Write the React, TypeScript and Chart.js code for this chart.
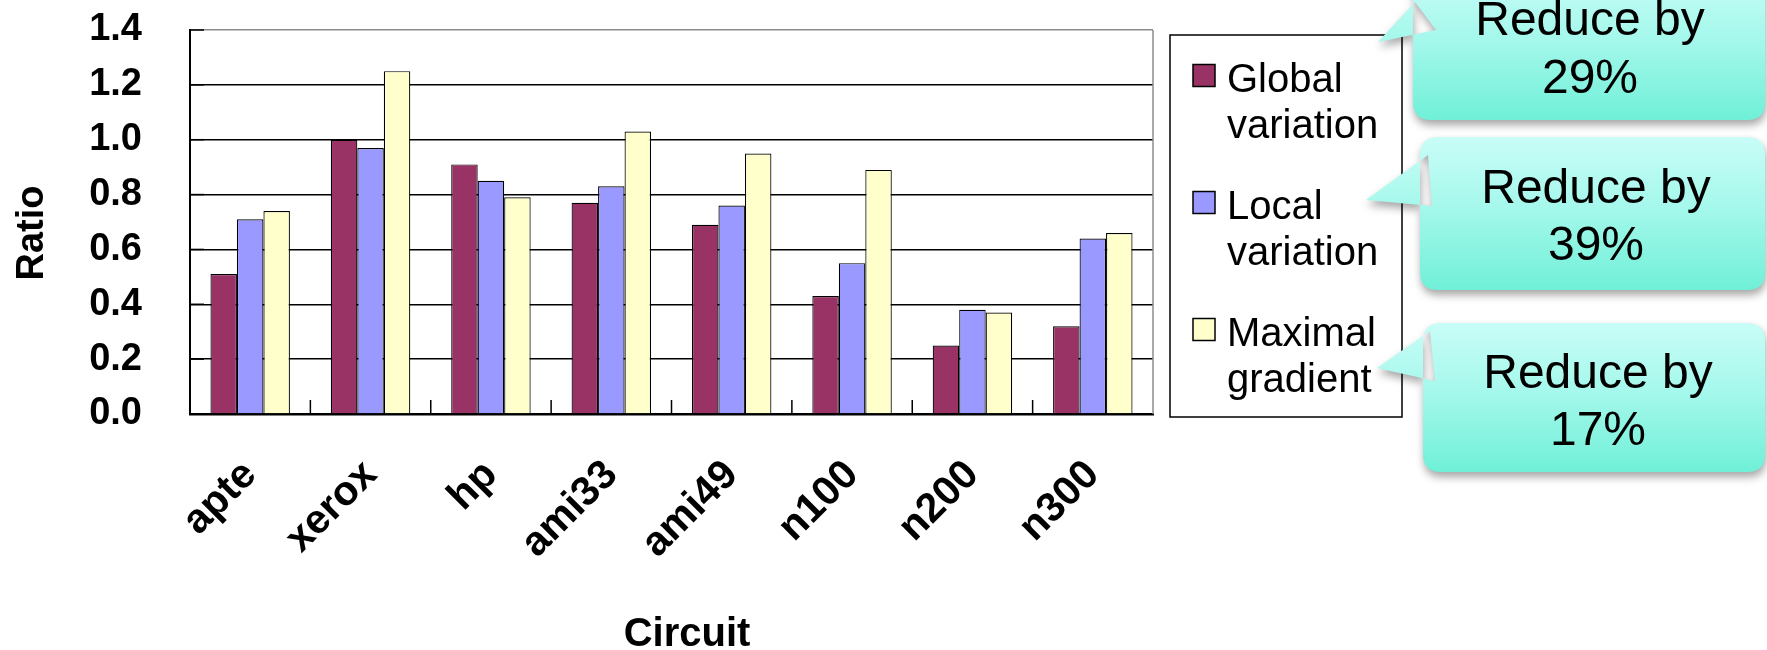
import React, { useEffect, useRef } from "react";
import { Chart, registerables } from "chart.js";

Chart.register(...registerables);

const categories = ["apte", "xerox", "hp", "ami33", "ami49", "n100", "n200", "n300"];
const globalVariation = [0.51, 1.0, 0.91, 0.77, 0.69, 0.43, 0.25, 0.32];
const localVariation = [0.71, 0.97, 0.85, 0.83, 0.76, 0.55, 0.38, 0.64];
const maximalGradient = [0.74, 1.25, 0.79, 1.03, 0.95, 0.89, 0.37, 0.66];
const seriesNames = ["Global variation", "Local variation", "Maximal gradient"];
const seriesColors = ["#993366", "#9999FF", "#FFFFCC"];
const calloutLines = [
  ["Reduce by", "29%"],
  ["Reduce by", "39%"],
  ["Reduce by", "17%"],
];
const xTitle = "Circuit";
const yTitle = "Ratio";
const Y_MIN = 0;
const Y_MAX = 1.4;
const Y_STEP = 0.2;

const FONT = "'Liberation Sans', Arial, sans-serif";

function roundRectPath(ctx: CanvasRenderingContext2D, x: number, y: number, w: number, h: number, r: number) {
  ctx.moveTo(x + r, y);
  ctx.lineTo(x + w - r, y);
  ctx.quadraticCurveTo(x + w, y, x + w, y + r);
  ctx.lineTo(x + w, y + h - r);
  ctx.quadraticCurveTo(x + w, y + h, x + w - r, y + h);
  ctx.lineTo(x + r, y + h);
  ctx.quadraticCurveTo(x, y + h, x, y + h - r);
  ctx.lineTo(x, y + r);
  ctx.quadraticCurveTo(x, y, x + r, y);
  ctx.closePath();
}

const calloutGeom = [
  { x: 1413, y: -30, w: 352, h: 150, tail: [[1415, 2], [1378, 42], [1436, 30]], cx: 1590, base: [35, 93] },
  { x: 1420, y: 137, w: 345, h: 153, tail: [[1428, 155], [1366, 200], [1432, 206]], cx: 1596, base: [203, 260] },
  { x: 1423, y: 323, w: 342, h: 149, tail: [[1430, 331], [1377, 368], [1435, 381]], cx: 1598, base: [388, 445] },
];

const overlayPlugin = {
  id: "overlay",
  afterDraw(chart: any) {
    const { ctx, chartArea: ca, scales } = chart;
    const xs = scales.x;
    const ys = scales.y;
    ctx.save();

    // right frame of plot area
    ctx.strokeStyle = "#8c8c8c";
    ctx.lineWidth = 1.5;
    ctx.beginPath();
    ctx.moveTo(ca.right, ca.top);
    ctx.lineTo(ca.right, ca.bottom);
    ctx.stroke();

    // inward y ticks
    ctx.strokeStyle = "#000";
    ctx.lineWidth = 1.5;
    ys.ticks.forEach((_t: any, i: number) => {
      const py = ys.getPixelForTick(i);
      ctx.beginPath();
      ctx.moveTo(ca.left, py);
      ctx.lineTo(ca.left + 14, py);
      ctx.stroke();
    });
    // inward x ticks at category boundaries
    for (let i = 0; i < categories.length - 1; i++) {
      const px = (xs.getPixelForValue(i) + xs.getPixelForValue(i + 1)) / 2;
      ctx.beginPath();
      ctx.moveTo(px, ca.bottom);
      ctx.lineTo(px, ca.bottom - 14);
      ctx.stroke();
    }

    // axis titles
    ctx.fillStyle = "#000";
    ctx.font = `bold 40px ${FONT}`;
    ctx.textAlign = "center";
    ctx.textBaseline = "alphabetic";
    ctx.fillText(xTitle, 687, 646);
    ctx.font = `bold 38px ${FONT}`;
    ctx.save();
    ctx.translate(43, 233);
    ctx.rotate(-Math.PI / 2);
    ctx.fillText(yTitle, 0, 0);
    ctx.restore();

    // legend
    const lx = 1170, ly = 35, lw = 232, lh = 382;
    ctx.fillStyle = "#fff";
    ctx.fillRect(lx, ly, lw, lh);
    ctx.strokeStyle = "#000";
    ctx.lineWidth = 1.5;
    ctx.strokeRect(lx, ly, lw, lh);
    ctx.font = `40px ${FONT}`;
    ctx.textAlign = "left";
    chart.data.datasets.forEach((ds: any, i: number) => {
      const baseline = 91.5 + i * 127;
      ctx.fillStyle = ds.backgroundColor;
      ctx.fillRect(1193, baseline - 27, 22, 22);
      ctx.strokeStyle = "#000";
      ctx.lineWidth = 1.5;
      ctx.strokeRect(1193, baseline - 27, 22, 22);
      const label: string = ds.label;
      const sp = label.indexOf(" ");
      ctx.fillStyle = "#000";
      ctx.fillText(label.slice(0, sp), 1227, baseline);
      ctx.fillText(label.slice(sp + 1), 1227, baseline + 46.5);
    });

    // callouts
    calloutGeom.forEach((g, i) => {
      ctx.save();
      ctx.shadowColor = "rgba(0,0,0,0.35)";
      ctx.shadowBlur = 9;
      ctx.shadowOffsetX = 1;
      ctx.shadowOffsetY = 5;
      const grad = ctx.createLinearGradient(0, g.y, 0, g.y + g.h);
      grad.addColorStop(0, "#C8FDF7");
      grad.addColorStop(0.45, "#A6F8EC");
      grad.addColorStop(1, "#70F0D7");
      ctx.fillStyle = grad;
      ctx.beginPath();
      roundRectPath(ctx, g.x, g.y, g.w, g.h, 18);
      ctx.moveTo(g.tail[0][0], g.tail[0][1]);
      ctx.lineTo(g.tail[1][0], g.tail[1][1]);
      ctx.lineTo(g.tail[2][0], g.tail[2][1]);
      ctx.closePath();
      ctx.fill();
      ctx.restore();
      ctx.fillStyle = "#000";
      ctx.font = `48px ${FONT}`;
      ctx.textAlign = "center";
      ctx.fillText(calloutLines[i][0], g.cx, g.base[0]);
      ctx.fillText(calloutLines[i][1], g.cx, g.base[1]);
    });

    ctx.restore();
  },
};

export default function App() {
  const ref = useRef<HTMLCanvasElement | null>(null);
  useEffect(() => {
    if (!ref.current) return;
    const seriesValues = [globalVariation, localVariation, maximalGradient];
    const chart = new Chart(ref.current, {
      type: "bar",
      data: {
        labels: categories,
        datasets: seriesNames.map((name, i) => ({
          label: name,
          data: seriesValues[i],
          backgroundColor: seriesColors[i],
          borderColor: "#000",
          borderWidth: 1.2,
          borderSkipped: "bottom",
          categoryPercentage: 0.66,
          barPercentage: 1.0,
        })),
      },
      options: {
        animation: false,
        responsive: false,
        devicePixelRatio: 1,
        layout: { padding: { top: 30, right: 614, left: 0, bottom: 0 } },
        plugins: {
          legend: { display: false },
          tooltip: { enabled: false },
          title: { display: false },
        },
        scales: {
          x: {
            z: 1,
            grid: { display: true, drawOnChartArea: false, drawTicks: false },
            border: { display: true, color: "#000", width: 2.5 },
            ticks: {
              autoSkip: false,
              minRotation: 45,
              maxRotation: 45,
              padding: 37,
              color: "#000",
              font: { family: FONT, size: 41, weight: "bold" },
            },
            afterFit: (s: any) => {
              s.height = 236;
            },
          },
          y: {
            min: Y_MIN,
            max: Y_MAX,
            ticks: {
              stepSize: Y_STEP,
              padding: 3,
              color: "#000",
              font: { family: FONT, size: 38, weight: "bold" },
              callback: (v: any) => Number(v).toFixed(1),
            },
            grid: {
              drawTicks: true,
              tickLength: 45,
              tickColor: "rgba(0,0,0,0)",
              lineWidth: 1.5,
              color: (c: any) =>
                c.tick && Math.abs(c.tick.value - Y_MAX) < 1e-6 ? "#8c8c8c" : "#000",
            },
            border: { display: true, color: "#000", width: 2 },
            afterFit: (s: any) => {
              s.width = 190;
            },
          },
        },
      },
      plugins: [overlayPlugin],
    });
    return () => chart.destroy();
  }, []);
  return (
    <div style={{ position: "absolute", left: 0, top: 0, width: 1767, height: 650, background: "#fff" }}>
      <canvas ref={ref} width={1767} height={650} style={{ display: "block" }} />
    </div>
  );
}
